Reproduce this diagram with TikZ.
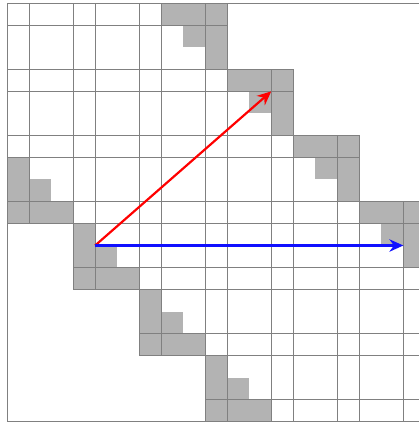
\documentclass[tikz,border=0pt]{standalone}
\usepackage{tikz}
\usetikzlibrary{arrows.meta}
\definecolor{cellfill}{HTML}{B3B3B3}
\definecolor{gridline}{HTML}{808080}
\definecolor{vecred}{HTML}{FF0000}
\definecolor{vecblue}{HTML}{1010FF}
\tikzset{
  cell/.style={fill=cellfill},
  gridedge/.style={gridline,line width=0.6pt},
  vec/.style={line width=1.4pt,-{Stealth[length=9pt,width=8pt]}}
}

\begin{document}
\begin{tikzpicture}[x=0.5cm, y=0.5cm]
\useasboundingbox (-0.318,-0.06) rectangle (18.71,19.15);
\clip (-0.318,-0.06) rectangle (18.71,19.15);
\foreach \k in {0,...,3}{
  \fill[cell] (7+3*\k,18-3*\k) rectangle (10+3*\k,19-3*\k);
  \fill[cell] (9+3*\k,16-3*\k) rectangle (10+3*\k,18-3*\k);
  \fill[cell] (8+3*\k,17-3*\k) rectangle (9+3*\k,18-3*\k);
  \fill[cell] (3*\k,10-3*\k) rectangle (1+3*\k,12-3*\k);
  \fill[cell] (1+3*\k,10-3*\k) rectangle (2+3*\k,11-3*\k);
  \fill[cell] (3*\k,9-3*\k) rectangle (3+3*\k,10-3*\k);
}
\foreach \p/\a/\b in {1/0/10,3/0/13,4/0/13,6/0/16,7/0/16,9/0/19,10/0/19,
                      12/3/19,13/3/19,15/6/19,16/6/19,18/9/19}{
  \draw[gridedge] (\a,19-\p) -- (\b,19-\p);
  \draw[gridedge] (\p,19-\b) -- (\p,19-\a);
}
\draw[gridedge] (0,0) rectangle (19,19);
\coordinate (origin) at (4,8);
\coordinate (diag) at (12,15);
\coordinate (horiz) at (18,8);
\draw[vec,vecred] (origin) -- (diag);
\draw[vec,vecblue] (origin) -- (horiz);
\end{tikzpicture}
\end{document}
